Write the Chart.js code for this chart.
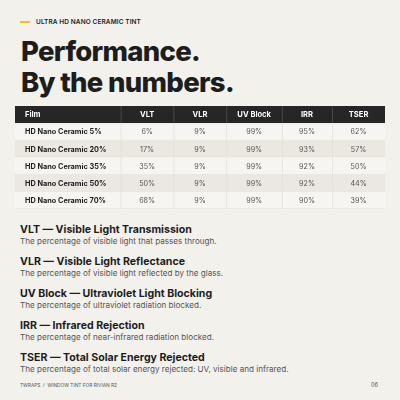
<!DOCTYPE html>
<html><head><meta charset="utf-8">
<script src="https://cdn.jsdelivr.net/npm/chart.js@4"></script>
<style>
html,body{margin:0;padding:0;width:400px;height:400px;background:#f3f1ec;font-family:Inter,"Open Sans",sans-serif;color:#1d1d1d;overflow:hidden;position:relative}
.k{position:absolute;left:20px;top:18px;font-size:6.5px;font-weight:600;letter-spacing:.1px}
.k:before{content:"";display:inline-block;width:10px;height:1.5px;background:#f0c419;vertical-align:middle;margin-right:6px}
.t{position:absolute;left:21px;top:36px;font-size:27.5px;font-weight:800;line-height:31px;letter-spacing:-.7px}
#wrap{position:absolute;left:15px;top:106px;width:370px;height:103px}
.d{position:absolute;left:20px}
.d b{display:block;font-size:10.6px;font-weight:700;line-height:13px}
.d span{display:block;font-size:8.1px;color:#555;line-height:11px}
.f{position:absolute;top:382px;font-size:4.8px;color:#555}
</style></head><body>
<div class="k">ULTRA HD NANO CERAMIC TINT</div>
<div class="t">Performance.<br>By the numbers.</div>
<div id="wrap"><canvas id="c"></canvas></div>
<div id="defs"></div>
<div class="f" style="left:20px">TWRAPS &nbsp;/&nbsp; WINDOW TINT FOR RIVIAN R2</div>
<div class="f" style="left:371px;font-size:5.5px">06</div>
<script>
const columns=["Film","VLT","VLR","UV Block","IRR","TSER"];
const films=["HD Nano Ceramic 5%","HD Nano Ceramic 20%","HD Nano Ceramic 35%","HD Nano Ceramic 50%","HD Nano Ceramic 70%"];
const vlt=[6,17,35,50,68];
const vlr=[9,9,9,9,9];
const uv=[99,99,99,99,99];
const irr=[95,93,92,92,90];
const tser=[62,57,50,44,39];
const terms=["VLT — Visible Light Transmission","VLR — Visible Light Reflectance","UV Block — Ultraviolet Light Blocking","IRR — Infrared Rejection","TSER — Total Solar Energy Rejected"];
const descs=["The percentage of visible light that passes through.","The percentage of visible light reflected by the glass.","The percentage of ultraviolet radiation blocked.","The percentage of near-infrared radiation blocked.","The percentage of total solar energy rejected: UV, visible and infrared."];

const defs=document.getElementById('defs');
terms.forEach((t,i)=>{const d=document.createElement('div');d.className='d';d.style.top=(223+i*32)+'px';d.innerHTML='<b>'+t+'</b><span>'+descs[i]+'</span>';defs.appendChild(d);});

const series=[vlt,vlr,uv,irr,tser];
const rows=["header",...films];
const edges=[0,2,3,4,5.05,6,7];
const tablePlugin={id:'table',afterDraw(ch){
  const c=ch.ctx,x=ch.scales.x,y=ch.scales.y;
  const rowH=Math.abs(y.getPixelForValue(1)-y.getPixelForValue(0));
  rows.forEach((r,ri)=>{
    const cy=y.getPixelForValue(ri),top=cy-rowH/2;
    c.fillStyle=ri===0?'#262626':(ri%2===0?'#ebe8e2':'#f6f5f1');
    c.fillRect(x.left,top,x.right-x.left,rowH);
    for(let ci=0;ci<columns.length;ci++){
      const l=x.getPixelForValue(edges[ci]),rr=x.getPixelForValue(edges[ci+1]);
      if(ci>0){c.fillStyle=ri===0?'#555':'#e2dfd8';c.fillRect(l,top,0.7,rowH);}
      let txt,al='center',px=(l+rr)/2;
      if(ri===0){txt=columns[ci];c.fillStyle='#fff';c.font='bold 7.6px Inter, sans-serif';}
      else if(ci===0){txt=films[ri-1];c.fillStyle='#1d1d1d';c.font='bold 7.3px Inter, sans-serif';}
      else {txt=series[ci-1][ri-1]+'%';c.fillStyle='#555';c.font='7.2px Inter, sans-serif';}
      if(ci===0){al='left';px=l+10;}
      c.textAlign=al;c.textBaseline='middle';c.fillText(txt,px,cy+0.5);
    }
    if(ri>0){c.fillStyle='#e2dfd8';c.fillRect(x.left,top+rowH-0.5,x.right-x.left,0.5);}
  });
}};
new Chart(document.getElementById('c'),{
  type:'scatter',
  data:{datasets:[{data:[],pointRadius:0}]},
  options:{responsive:true,maintainAspectRatio:false,animation:false,
    layout:{padding:0},
    plugins:{legend:{display:false},tooltip:{enabled:false}},
    scales:{
      x:{type:'linear',min:0,max:7,display:false},
      y:{type:'linear',min:-0.5,max:rows.length-0.5,reverse:true,display:false}
    }},
  plugins:[tablePlugin]
});
</script>
</body></html>
